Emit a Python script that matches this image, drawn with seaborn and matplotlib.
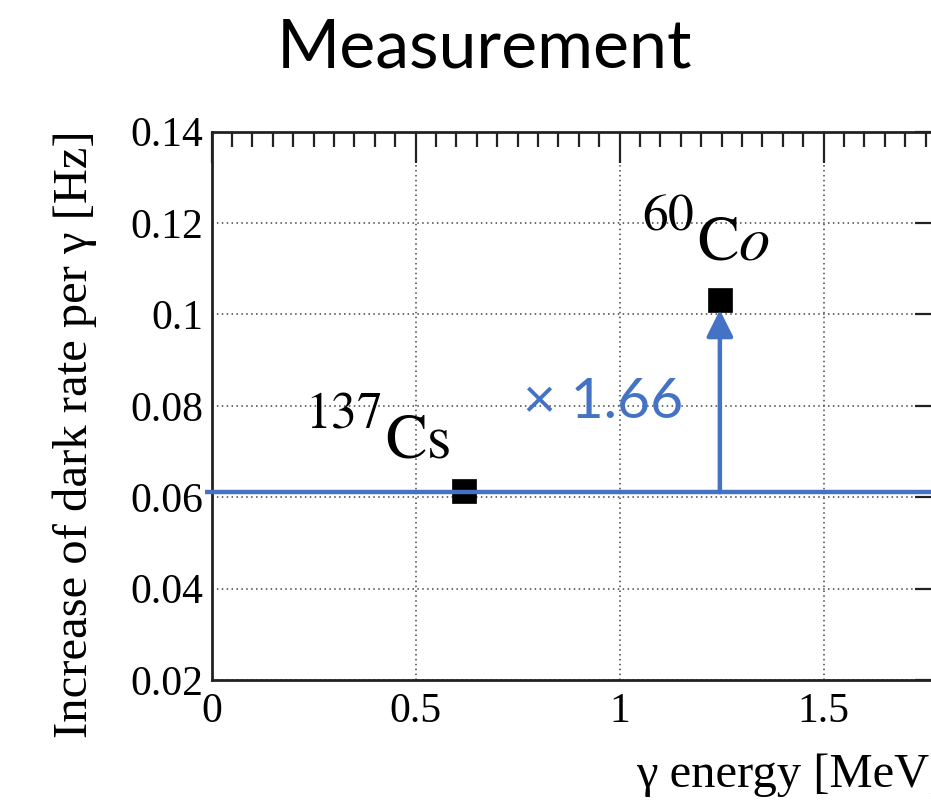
import numpy as np
import pandas as pd
import matplotlib
matplotlib.use("Agg")
import matplotlib.pyplot as plt
import seaborn as sns
from matplotlib.ticker import MultipleLocator, FixedLocator, FixedFormatter

# ---- data ----
isotopes = ["137Cs", "60Co"]
mass_numbers = ["137", "60"]
elements = [r"$\mathrm{Cs}$", r"$\mathrm{C}o$"]
energy = [0.62, 1.246]
rate = [0.0614, 0.1032]
baseline_rate = 0.0611
ratio_text = "× 1.66"
x_ticks = [0, 0.5, 1, 1.5]
x_ticklabels = ["0", "0.5", "1", "1.5"]
y_ticks = [0.02, 0.04, 0.06, 0.08, 0.10, 0.12, 0.14]
y_ticklabels = ["0.02", "0.04", "0.06", "0.08", "0.1", "0.12", "0.14"]
x_range = (0, 1.8)
y_range = (0.02, 0.14)

BLUE = "#4472C4"

sns.set_style("white")
plt.rcParams["font.family"] = ["Liberation Serif", "DejaVu Serif"]
plt.rcParams["mathtext.fontset"] = "stix"
plt.rcParams["text.color"] = "black"

W, H = 931, 800
fig = plt.figure(figsize=(W / 100, H / 100), dpi=100)
ax_left, ax_bottom = 211.5, 680
ax_top = 131.7
px_per_x = 408.0
ax_w = (x_range[1] - x_range[0]) * px_per_x
ax = fig.add_axes([ax_left / W, 1 - ax_bottom / H, ax_w / W, (ax_bottom - ax_top) / H])

df = pd.DataFrame({"energy": energy, "rate": rate, "isotope": isotopes})

ax.set_xlim(*x_range)
ax.set_ylim(*y_range)
px_per_y = (ax_bottom - ax_top) / (y_range[1] - y_range[0])


def dx(px):
    return x_range[0] + (px - ax_left) / px_per_x


def dy(py):
    return y_range[0] + (ax_bottom - py) / px_per_y


# grid
ax.xaxis.set_major_locator(FixedLocator(x_ticks))
ax.xaxis.set_major_formatter(FixedFormatter(x_ticklabels))
ax.yaxis.set_major_locator(FixedLocator(y_ticks))
ax.yaxis.set_major_formatter(FixedFormatter(y_ticklabels))
ax.xaxis.set_minor_locator(MultipleLocator(0.05))
ax.yaxis.set_minor_locator(MultipleLocator(0.005))
ax.grid(True, which="major", linestyle=(0, (1, 2.2)), color="#444444", linewidth=1.1)

# baseline level
ax.plot([x_range[0] - 0.015, x_range[1]], [baseline_rate, baseline_rate],
        color=BLUE, linewidth=3.2, zorder=4, clip_on=False, solid_capstyle="butt")

# points
sns.scatterplot(data=df, x="energy", y="rate", marker="s", s=300, color="black",
                edgecolor="black", linewidth=0.5, ax=ax, zorder=3, legend=False)

# arrow from baseline to Co point
ax.annotate("", xy=(energy[1], rate[1] - 0.0022), xytext=(energy[1], baseline_rate),
            arrowprops=dict(arrowstyle="-|>,head_length=0.8,head_width=0.4", color=BLUE,
                            linewidth=3.2, shrinkA=0, shrinkB=0, mutation_scale=20),
            zorder=4)

ax.text(dx(523), dy(418), ratio_text, color=BLUE, fontsize=41, family=["Lato", "DejaVu Sans"],
        ha="left", va="baseline")

# isotope labels (superscript mass number + element)
label_pos = [((305, 428), (385, 457)), ((642, 230), (697, 260))]
for mnum, elem, ((sx, sy), (ex, ey)) in zip(mass_numbers, elements, label_pos):
    ax.text(dx(sx), dy(sy), "$" + mnum + "$", fontsize=37, ha="left", va="baseline", color="black")
    ax.text(dx(ex), dy(ey), elem, fontsize=45, ha="left", va="baseline", color="black")

ax.tick_params(which="both", direction="in", top=True, right=True, colors="#222222",
               labelsize=30, labelcolor="black")
ax.tick_params(which="major", length=22, width=1.6)
ax.tick_params(which="minor", length=11, width=1.6)
ax.tick_params(axis="y", pad=6)
ax.tick_params(axis="x", pad=9)
for sp in ax.spines.values():
    sp.set_linewidth(2)
    sp.set_color("#222222")

ax.set_xlabel("")
ax.set_ylabel("")
fig.text(75 / W, 1 - 130 / H, "Increase of dark rate per γ [Hz]", rotation=90,
         fontsize=35, ha="center", va="top", color="black")
fig.text((ax_left + ax_w) / W, 1 - 775 / H, "γ energy [MeV]", fontsize=35,
         ha="right", va="center", color="black")

fig.text(485 / W, 1 - 68 / H, "Measurement", fontsize=49, family=["Lato", "DejaVu Sans"],
         ha="center", va="baseline", color="black")

fig.savefig("out.png", dpi=100)
